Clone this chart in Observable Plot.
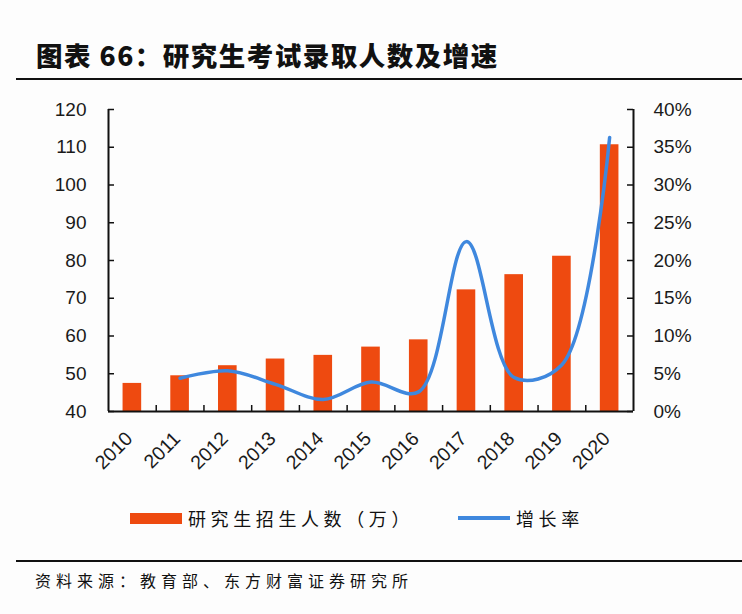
<!DOCTYPE html>
<html>
<head>
<meta charset="utf-8">
<script src="https://cdn.jsdelivr.net/npm/d3@7"></script>
<script src="https://cdn.jsdelivr.net/npm/@observablehq/plot@0.6"></script>
<style>
  body { margin: 0; background: #fdfdfd; }
  #page { position: relative; width: 742px; height: 614px; overflow: hidden; background: #fdfdfd;
          font-family: "Noto Sans CJK SC", sans-serif; color: #111; }
  .title { position: absolute; left: 36px; top: 37px; font-size: 26.5px; font-weight: 900;
           letter-spacing: 1.5px; white-space: nowrap; line-height: 36px; }
  .hr { position: absolute; left: 16px; right: 0; height: 2px; background: #111; }
  #chart { position: absolute; left: 0; top: 90px; }
  .legend { position: absolute; top: 504px; left: 0; height: 28px; font-size: 18px; line-height: 28px; white-space: nowrap; }
  .legend .item { position: absolute; top: 0; display: flex; align-items: center; }
  .legend .label { letter-spacing: 4.6px; }
  .swatch-bar { width: 52px; height: 11px; margin-right: 6px; }
  .swatch-line { width: 52px; height: 3.5px; margin-right: 6px; }
  .caption { position: absolute; left: 35px; top: 566px; font-size: 16px; letter-spacing: 5px; white-space: nowrap; line-height: 28px; }
</style>
</head>
<body>
<div id="page">
  <div class="title">图表 66：研究生考试录取人数及增速</div>
  <div class="hr" style="top:78px"></div>
  <div id="chart"></div>
  <div class="legend" id="legend"></div>
  <div class="hr" style="top:560px"></div>
  <div class="caption">资料来源：教育部、东方财富证券研究所</div>
</div>
<script>
// Graduate enrolment (10k people) per year
const years = [2010, 2011, 2012, 2013, 2014, 2015, 2016, 2017, 2018, 2019, 2020];
const enrolled = [47.44, 49.46, 52.13, 53.9, 54.87, 57.06, 58.98, 72.22, 76.25, 81.13, 110.66];

// Year-on-year growth rate (%), from 2011 on
const growthYears = [2011, 2012, 2013, 2014, 2015, 2016, 2017, 2018, 2019, 2020];
const growth = [4.4, 5.4, 3.6, 1.6, 3.9, 2.6, 22.5, 4.5, 6.2, 36.3];

// Axis ticks
const leftTicks = [40, 50, 60, 70, 80, 90, 100, 110, 120];
const rightTicks = [0, 5, 10, 15, 20, 25, 30, 35, 40];

const seriesNames = ["研究生招生人数（万）", "增长率"];
const barColor = "#EE4A10";
const lineColor = "#3F88DE";

// The right (percent) axis shares the plot's y scale: 0%..40% maps onto 40..120
const yLo = leftTicks[0], yHi = leftTicks[leftTicks.length - 1];
const gLo = rightTicks[0], gHi = rightTicks[rightTicks.length - 1];
const toLeft = g => yLo + (g - gLo) * (yHi - yLo) / (gHi - gLo);
const toRight = v => gLo + (v - yLo) * (gHi - gLo) / (yHi - yLo);

const bars = years.map((year, i) => ({year, value: enrolled[i]}));
const rates = growthYears.map((year, i) => ({year, rate: growth[i]}));
const dividers = years.slice(0, -1).map(y => y + 0.5);

const W = 742, H = 400, mT = 19, mB = 79, mL = 108, mR = 109;
const plotW = W - mL - mR, plotH = H - mT - mB;
const tick = 6, halfBar = 0.195;

const chart = Plot.plot({
  width: W, height: H,
  marginTop: mT, marginBottom: mB, marginLeft: mL, marginRight: mR,
  x: {domain: [years[0] - 0.5, years[years.length - 1] + 0.5]},
  y: {domain: [yLo, yHi]},
  style: {fontFamily: "'Liberation Sans', Arial, sans-serif", fontSize: "19px", color: "#1a1a1a", background: "transparent"},
  marks: [
    Plot.rectY(bars, {x1: d => d.year - halfBar, x2: d => d.year + halfBar, y1: yLo, y2: "value", fill: barColor}),
    Plot.line(rates, {x: "year", y: d => toLeft(d.rate), curve: "catmull-rom", stroke: lineColor, strokeWidth: 3.5}),
    // axis lines
    Plot.ruleY([yLo], {stroke: "#111", strokeWidth: 2}),
    Plot.ruleX([years[0] - 0.5, years[years.length - 1] + 0.5], {stroke: "#111", strokeWidth: 2}),
    // inward tick marks
    Plot.ruleY(leftTicks, {y: d => d, insetRight: plotW - tick, stroke: "#111", strokeWidth: 1.5}),
    Plot.ruleY(rightTicks.map(toLeft), {y: d => d, insetLeft: plotW - tick, stroke: "#111", strokeWidth: 1.5}),
    Plot.ruleX(dividers, {x: d => d, insetTop: plotH - tick, stroke: "#111", strokeWidth: 1.5}),
    // tick labels
    Plot.axisY(leftTicks, {anchor: "left", tickSize: 0, tickPadding: 22, label: null}),
    Plot.axisY(rightTicks.map(toLeft), {anchor: "right", tickSize: 0, tickPadding: 20, label: null,
      tickFormat: v => `${toRight(v)}%`}),
    Plot.axisX(years, {anchor: "bottom", tickSize: 0, tickPadding: 24, tickRotate: -45, label: null, fontSize: 19.5,
      dx: -3, tickFormat: d => String(d)})
  ]
});
document.getElementById("chart").append(chart);

// Legend
const legend = document.getElementById("legend");
legend.innerHTML = `
  <div class="item" style="left:130px"><span class="swatch-bar" style="background:${barColor}"></span><span class="label">${seriesNames[0]}</span></div>
  <div class="item" style="left:458px"><span class="swatch-line" style="background:${lineColor}"></span><span class="label">${seriesNames[1]}</span></div>`;
</script>
</body>
</html>
